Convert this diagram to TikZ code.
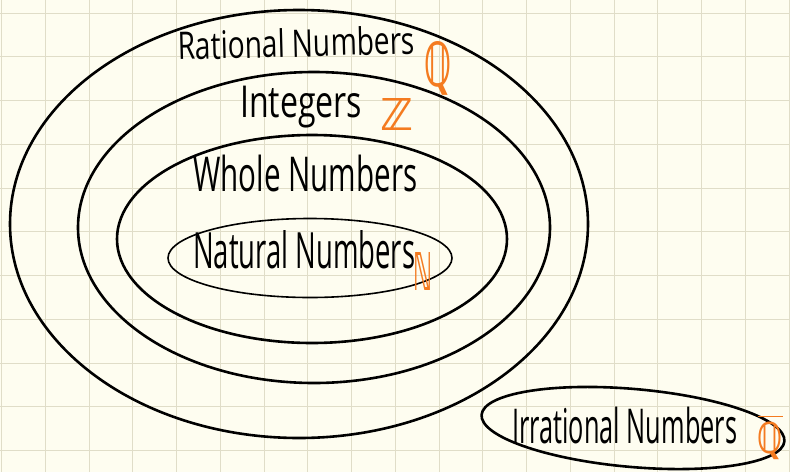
\documentclass[tikz,border=0pt]{standalone}
\usepackage{fontspec}
\setmainfont{Open Sans}
\newfontfamily\dsymfont{DejaVu Sans}
\usetikzlibrary{shapes.geometric}
\definecolor{paper}{HTML}{FEFDF0}
\definecolor{gridc}{HTML}{E0DDC8}
\definecolor{markc}{HTML}{F47B20}
\newcommand{\handtext}[3]{\resizebox{#1pt}{\height}{\fontsize{#2}{#2}\selectfont #3}}
\newcommand{\setsym}[3]{\resizebox{#1pt}{#2pt}{\dsymfont\bfseries #3}}
\tikzset{
  setring/.style={draw=black, line width=2.6pt, ellipse, inner sep=0pt, outer sep=0pt},
  thinring/.style={draw=black, line width=1.6pt, ellipse, inner sep=0pt, outer sep=0pt},
  label/.style={anchor=base west, inner sep=0pt, text=black},
  symb/.style={inner sep=0pt, text=markc},
  gridline/.style={draw=gridc, line width=1pt}
}
\begin{document}
\begin{tikzpicture}[x=1pt,y=-1pt]
\fill[paper] (0,0) rectangle (790,472);
\useasboundingbox (0,0) rectangle (790,472);
\foreach \i in {0,...,18} \draw[gridline] ({1.5+43.75*\i},0) -- ++(0,472);
\foreach \j in {0,...,10} \draw[gridline] (0,{13+43.75*\j}) -- ++(790,0);

\node[setring, minimum width=578pt, minimum height=428pt] (rational) at (299,224) {};
\node[setring, minimum width=472pt, minimum height=311pt] (integers) at (314,227.5) {};
\node[setring, minimum width=390pt, minimum height=208pt] (whole) at (312,239) {};
\node[thinring, minimum width=284pt, minimum height=79pt] (natural) at (310,258) {};
\node[setring, minimum width=304pt, minimum height=78pt, rotate=-5] (irrational) at (633,428) {};

\node[label, rotate=1.5] (ratlabel) at (178,60) {\handtext{237}{38}{Rational Numbers}};
\node[label] (intlabel) at (240,117) {\handtext{122}{44}{Integers}};
\node[label] (wholelabel) at (193,191) {\handtext{224}{48}{Whole Numbers}};
\node[label] (natlabel) at (193,268) {\handtext{222}{50}{Natural Numbers}};
\node[label] (irrlabel) at (512,443) {\handtext{225}{48}{Irrational Numbers}};

\node[symb] (qsym) at (438,68) {\setsym{27}{45}{ℚ}};
\node[symb] (zsym) at (397,114) {\setsym{33}{32}{ℤ}};
\node[symb] (nsym) at (423,271) {\setsym{19}{38}{ℕ}};
\node[symb] (qbarsym) at (770,437) {\setsym{25}{40}{$\overline{\hbox{\dsymfont\bfseries ℚ}}$}};
\end{tikzpicture}
\end{document}
